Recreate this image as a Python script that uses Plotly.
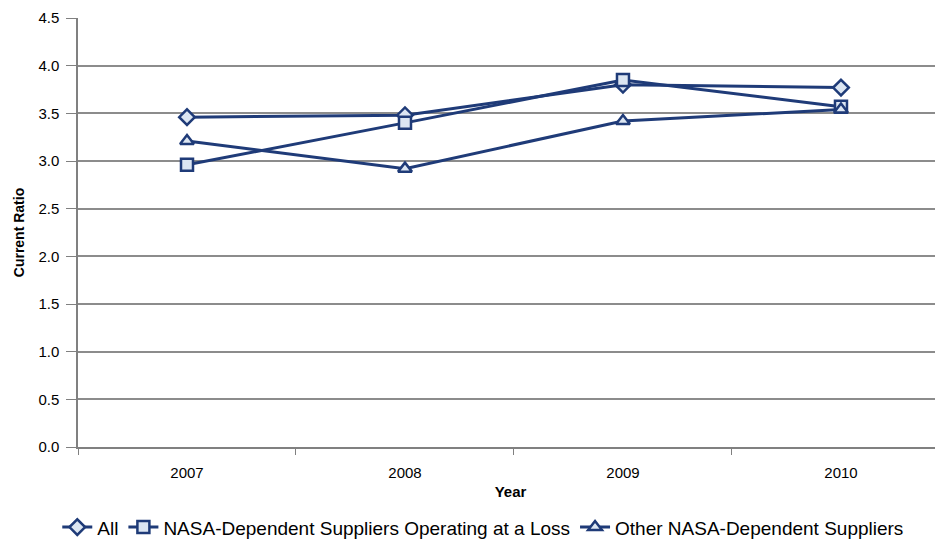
import plotly.graph_objects as go

years = ["2007", "2008", "2009", "2010"]
all_vals = [3.46, 3.48, 3.80, 3.77]
loss_vals = [2.96, 3.40, 3.85, 3.57]
other_vals = [3.21, 2.92, 3.42, 3.54]
y_ticks = [0.0, 0.5, 1.0, 1.5, 2.0, 2.5, 3.0, 3.5, 4.0, 4.5]

navy = "#1f3b78"
fill = "#dce6f2"
font = "Liberation Sans, Arial, sans-serif"

fig = go.Figure()
series = [
    ("All", all_vals, "diamond"),
    ("NASA-Dependent Suppliers Operating at a Loss", loss_vals, "square"),
    ("Other NASA-Dependent Suppliers", other_vals, "triangle-up"),
]
for name, vals, sym in series:
    fig.add_trace(go.Scatter(
        x=years, y=vals, name=name, mode="lines+markers",
        line=dict(color=navy, width=3),
        marker=dict(symbol=sym, size=12, color=fill, line=dict(color=navy, width=2.5)),
    ))

fig.update_layout(
    width=943, height=542,
    margin=dict(l=70, r=8, t=10, b=103, autoexpand=False),
    paper_bgcolor="white", plot_bgcolor="white",
    font=dict(family=font, size=15, color="#000000"),
    showlegend=True,
    legend=dict(orientation="h", xref="container", x=0.504, xanchor="center",
                yref="container", y=0.042, yanchor="middle",
                font=dict(size=19), itemwidth=30, tracegroupgap=0),
    xaxis=dict(
        type="category", range=[-0.5, 3.468],
        tickson="boundaries", ticks="outside", ticklen=6, tickcolor="#808080",
        showline=True, linecolor="#808080", linewidth=1.5,
        showgrid=False, tickfont=dict(size=15), ticklabelstandoff=11,
        title=dict(text="<b>Year</b>", font=dict(size=15), standoff=7),
    ),
    yaxis=dict(
        range=[0, 4.5], tickvals=y_ticks, tickformat=".1f",
        ticks="outside", ticklen=10, tickcolor="#808080",
        showline=True, linecolor="#808080", linewidth=1.5,
        showgrid=True, gridcolor="#8c8c8c", gridwidth=1.5,
        zeroline=False, tickfont=dict(size=15), ticklabelstandoff=4,
        title=dict(text="<b>Current Ratio</b>", font=dict(size=14), standoff=10),
    ),
)

fig.write_html("out.html")
